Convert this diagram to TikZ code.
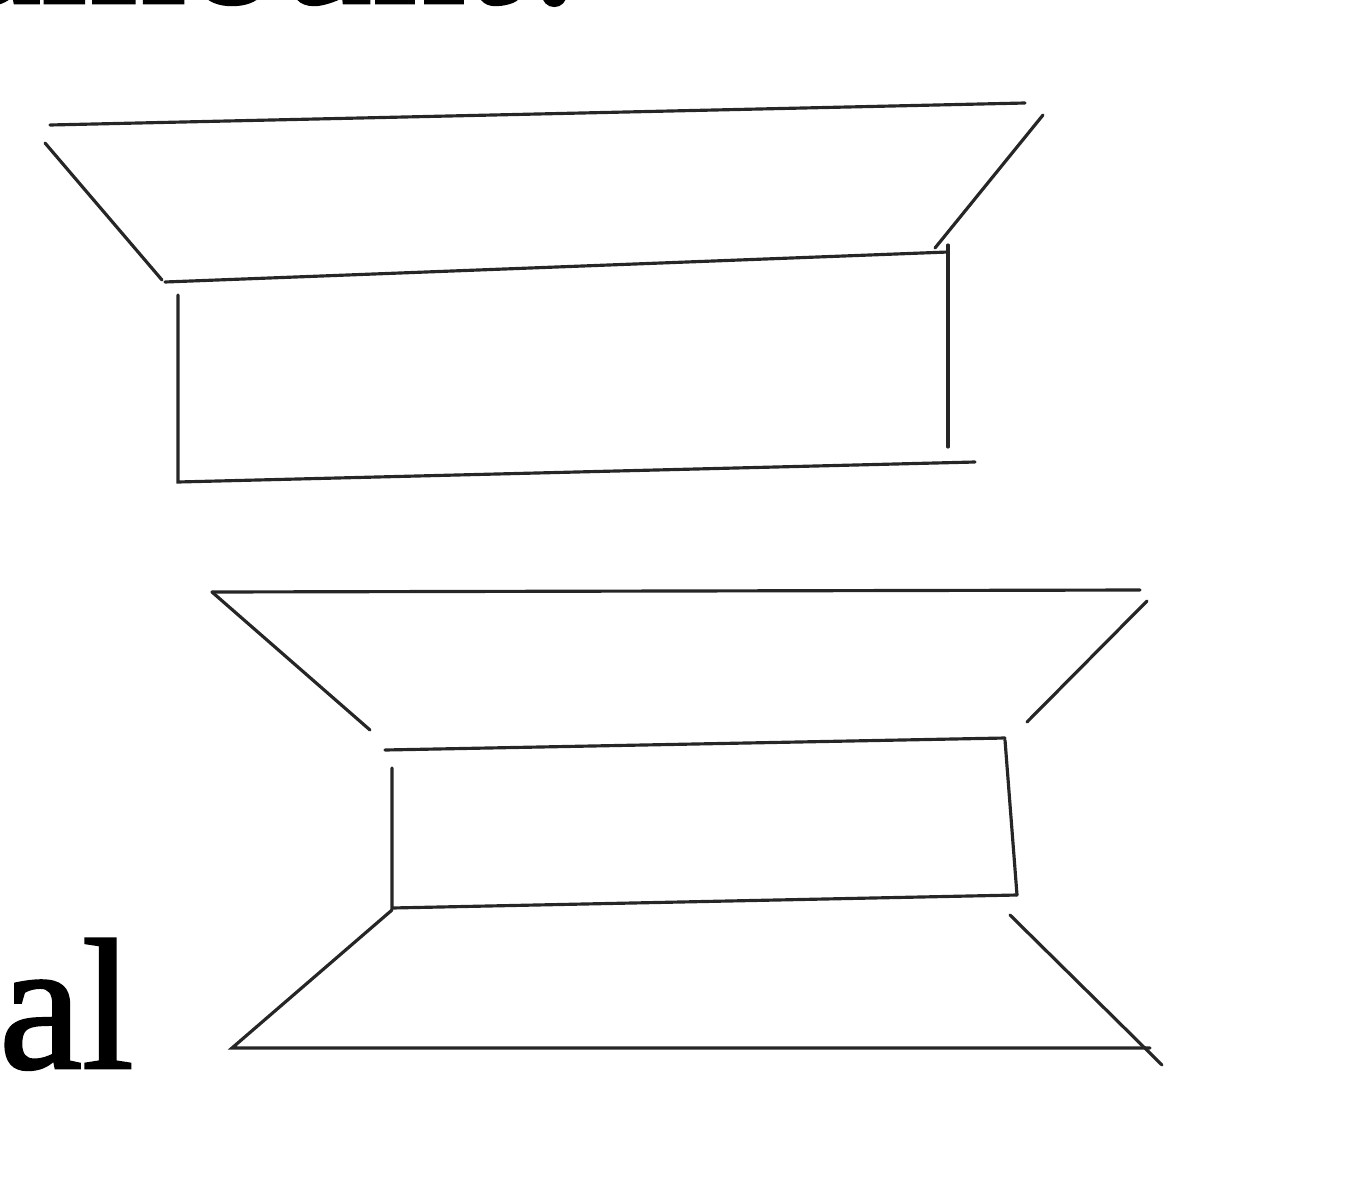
\documentclass[tikz,border=0pt]{standalone}
\usepackage{fontspec}
\setmainfont{Liberation Serif}
\newfontfamily\heavyserif[FakeBold=1.5]{Liberation Serif}
\begin{document}
\begin{tikzpicture}[x=0.02cm,y=-0.02cm,
  edge/.style={line width=1.8pt,line cap=round,black!85},
  big/.style={inner sep=0pt,font=\heavyserif\fontsize{106}{120}\selectfont}]
\useasboundingbox (0,0) rectangle (1359,1200);
\clip (0,0) rectangle (1359,1200);
% clipped texts
\node[big,anchor=base west] (toptext) at (-42,3) {amount?};
\node[big,anchor=base east] (lefttext) at (134,1068) {ral};
% upper shape
\draw[edge] (50,125) -- (1025,103);
\draw[edge] (45,143) -- (162,280);
\draw[edge] (165,282) -- (948,252);
\draw[edge] (1043,115) -- (935,248);
\draw[edge] (178,295) -- (178,482) -- (975,462);
\draw[edge] (948,245) -- (948,447);
% lower shape
\draw[edge] (212,592) -- (1140,590);
\draw[edge] (212,592) -- (370,730);
\draw[edge] (1147,601) -- (1027,722);
\draw[edge] (385,750) -- (1005,738);
\draw[edge] (392,768) -- (392,908) -- (1017,895);
\draw[edge] (1005,740) -- (1017,895);
\draw[edge] (392,910) -- (232,1048) -- (1150,1048);
\draw[edge] (1010,915) -- (1162,1065);
\end{tikzpicture}
\end{document}
